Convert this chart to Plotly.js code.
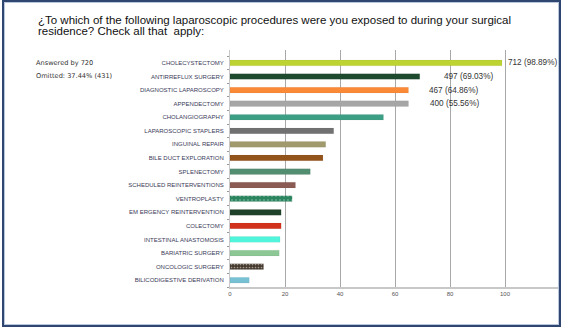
<!DOCTYPE html>
<html>
<head>
<meta charset="utf-8">
<script src="https://cdn.plot.ly/plotly-3.0.1.min.js"></script>
<style>
html,body{margin:0;padding:0;background:#fff;}
#wrap{position:relative;width:562px;height:328px;overflow:hidden;}
#chart{width:562px;height:328px;}
#frame{position:absolute;left:2px;top:0px;width:555px;height:323px;border:2px solid #2f4670;box-shadow:inset 0 0 0 1px #b9c6dc;pointer-events:none;}
</style>
</head>
<body>
<div id="wrap"><div id="chart"></div><div id="frame"></div></div>
<script>
// Categories (top to bottom as shown)
const categories = [
  "CHOLECYSTECTOMY","ANTIRREFLUX SURGERY","DIAGNOSTIC LAPAROSCOPY","APPENDECTOMY",
  "CHOLANGIOGRAPHY","LAPAROSCOPIC STAPLERS","INGUINAL REPAIR","BILE DUCT EXPLORATION",
  "SPLENECTOMY","SCHEDULED REINTERVENTIONS","VENTROPLASTY","EM ERGENCY REINTERVENTION",
  "COLECTOMY","INTESTINAL ANASTOMOSIS","BARIATRIC SURGERY","ONCOLOGIC SURGERY",
  "BILICODIGESTIVE DERIVATION"
];
// Bar lengths (percent)
const percentages = [98.9, 69.0, 64.9, 64.9, 55.8, 37.7, 34.8, 33.8, 29.2, 23.8, 22.6, 18.6, 18.6, 18.2, 17.9, 12.2, 7.0];
const barColors = ["#bdd331","#1e4a2e","#fb8a38","#a6a6a6","#3c9f85","#717171","#a19a6c","#93541c",
  "#2d7552","#8b5a53","#2b8660","#1f4129","#d2321b","#50f5db","#8cc795","#45392d","#78c1d5"];
const patternShapes = ["","","","","","","","",".","",".","","","","",".",""];
const patternFg = ["","","","","","","","","#4f8f6e","","#8fd0ac","","","","","#8a6c44",""];
const patternSize = [3,3,3,3,3,3,3,3,2,3,4,3,3,3,3,3,3];
const patternSolidity = [0.3,0.3,0.3,0.3,0.3,0.3,0.3,0.3,0.35,0.3,0.12,0.3,0.3,0.3,0.3,0.25,0.3];
// Value labels for the top four bars
const labelCats = ["CHOLECYSTECTOMY","ANTIRREFLUX SURGERY","DIAGNOSTIC LAPAROSCOPY","APPENDECTOMY"];
const labelTexts = ["712 (98.89%)","497 (69.03%)","467 (64.86%)","400 (55.56%)"];
const labelX = [100.2, 77.0, 71.5, 72.0];
const xTickVals = [0,20,40,60,80,100,120];
const titleLines = ["¿To which of the following laparoscopic procedures were you exposed to during your surgical",
                    "residence? Check all that  apply:"];

const rev = a => a.slice().reverse();
const cats = rev(categories), vals = rev(percentages), cols = rev(barColors);
const pshapes = rev(patternShapes), pfg = rev(patternFg), psize = rev(patternSize), psol = rev(patternSolidity);

const trace = {
  type: "bar", orientation: "h",
  y: cats, x: vals, width: 0.42,
  marker: {
    color: cols,
    line: {color: "rgba(0,0,0,0.08)", width: 0.5},
    pattern: {shape: pshapes, fgcolor: pfg.map((c,i)=>c||cols[i]), bgcolor: cols,
              fillmode: "overlay", size: psize, solidity: psol}
  },
  hoverinfo: "skip"
};

const L = 230, R = 2, T = 50, B = 41;
const pw = 562 - L - R, ph = 328 - T - B;
const px = x => (x - L)/pw, py = y => (328 - B - y)/ph;

const annotations = labelTexts.map((t,i)=>({
  x: labelX[i], y: labelCats[i], xref: "x", yref: "y",
  text: t, showarrow: false, xanchor: "left", yanchor: "middle",
  font: {family: "Liberation Sans, Arial, sans-serif", size: 8.2, color: "#333"}
}));
annotations.push(
  {x: px(34), y: py(63), xref: "paper", yref: "paper", text: "Answered by 720", showarrow: false,
   xanchor: "left", yanchor: "middle", font: {family: "DejaVu Sans, sans-serif", size: 6.6, color: "#333"}},
  {x: px(34), y: py(76), xref: "paper", yref: "paper", text: "Omitted: 37.44% (431)", showarrow: false,
   xanchor: "left", yanchor: "middle", font: {family: "DejaVu Sans, sans-serif", size: 6.6, color: "#333"}}
);
titleLines.forEach((t,i)=>annotations.push({
  x: px(36), y: py(20 + i*11.5), xref: "paper", yref: "paper", text: t, showarrow: false,
  xanchor: "left", yanchor: "middle",
  font: {family: "Liberation Sans, Arial, sans-serif", size: 11.5, color: "#111"}
}));

const layout = {
  width: 562, height: 328,
  margin: {l: L, r: R, t: T, b: B},
  paper_bgcolor: "#fff", plot_bgcolor: "#fff",
  showlegend: false,
  xaxis: {
    range: [0, 120], tickvals: xTickVals, ticktext: xTickVals.map(String),
    showgrid: true, gridcolor: "#a8a8a8", gridwidth: 1,
    zeroline: false, showline: true, linecolor: "#c8c8c8", linewidth: 1.5,
    ticks: "", tickfont: {family: "Liberation Sans, Arial, sans-serif", size: 6, color: "#555"},
    fixedrange: true
  },
  yaxis: {
    type: "category", categoryorder: "array", categoryarray: cats,
    range: [-0.5, 16.95],
    showgrid: false, zeroline: false, showline: true, linecolor: "#c8c8c8", linewidth: 1,
    ticks: "outside", tickson: "boundaries", ticklen: 2, tickcolor: "#999",
    ticklabelstandoff: 4,
    tickfont: {family: "Liberation Sans, Arial, sans-serif", size: 6, color: "#3a3a58"},
    fixedrange: true
  },
  annotations: annotations,
  bargap: 0.58
};

Plotly.newPlot("chart", [trace], layout, {displayModeBar: false, staticPlot: true});
</script>
</body>
</html>
